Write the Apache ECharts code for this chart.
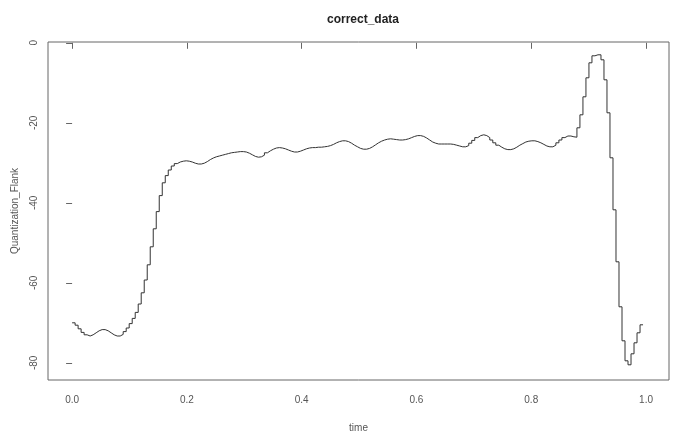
<!DOCTYPE html>
<html>
<head>
<meta charset="utf-8">
<script src="https://cdn.jsdelivr.net/npm/echarts@6/dist/echarts.min.js"></script>
<style>
  html, body { margin: 0; padding: 0; background: #fff; }
  #chart { width: 677px; height: 432px; }
</style>
</head>
<body>
<div id="chart"></div>
<script>
// samples are taken every 1/191 of the time span
const sampleStep = 1 / 191

// Quantization_Flank values, one per sample
const flankValues = [
  -70.0, -70.6, -71.5, -72.4, -73.0, -73.3, -73.0, -72.5, -72.0, -71.7,
  -71.7, -72.0, -72.5, -73.0, -73.3, -73.3, -72.9, -72.2, -71.3, -70.2,
  -68.9, -67.4, -65.3, -62.5, -59.3, -55.5, -51.0, -46.5, -42.2, -38.2,
  -35.0, -33.2, -31.8, -30.8, -30.2, -29.8, -29.6, -29.5, -29.6, -29.8,
  -30.1, -30.3, -30.3, -30.1, -29.7, -29.2, -28.8, -28.5, -28.3, -28.1,
  -27.9, -27.7, -27.5, -27.4, -27.3, -27.2, -27.2, -27.3, -27.6, -28.0,
  -28.4, -28.6, -28.5, -28.1, -27.5, -27.0, -26.6, -26.3, -26.2, -26.3,
  -26.5, -26.8, -27.1, -27.3, -27.3, -27.1, -26.8, -26.5, -26.3, -26.2,
  -26.2, -26.1, -26.1, -26.0, -25.9, -25.7, -25.4, -25.0, -24.7, -24.5,
  -24.5, -24.7, -25.1, -25.6, -26.0, -26.4, -26.6, -26.6, -26.4, -26.0,
  -25.5, -25.0, -24.6, -24.3, -24.1, -24.0, -24.1, -24.2, -24.3, -24.3,
  -24.2, -24.0, -23.7, -23.4, -23.2, -23.2, -23.4, -23.8, -24.3, -24.8,
  -25.1, -25.3, -25.3, -25.3, -25.3, -25.3, -25.4, -25.6, -25.8, -26.0,
  -26.0, -25.7, -25.1, -24.4, -23.7, -23.2, -23.0, -23.2, -23.7, -24.3,
  -25.0, -25.6, -26.1, -26.5, -26.7, -26.7, -26.5, -26.1, -25.6, -25.2,
  -24.8, -24.6, -24.5, -24.5, -24.7, -25.0, -25.4, -25.8, -26.0, -26.0,
  -25.6, -25.0, -24.3, -23.7, -23.3, -23.3, -23.5, -23.6, -21.25, -18.0,
  -13.5, -8.75, -5.0, -3.25, -3.0, -3.0, -4.25, -9.25, -17.5, -28.75,
  -41.75, -54.75, -66.0, -74.5, -79.5, -80.5, -77.75, -75.0, -72.5, -70.5,
  -70.5
]

const xTicks = [0, 0.2, 0.4, 0.6, 0.8, 1.0]
const xTickLabels = ['0.0', '0.2', '0.4', '0.6', '0.8', '1.0']
const yTicks = [0, -20, -40, -60, -80]

const seriesData = flankValues.map((v, i) => [i * sampleStep, v])

const font = "'Liberation Sans Narrow', 'Liberation Sans', Arial, sans-serif"
const textColor = '#555'
const boxColor = '#666'

const chart = echarts.init(document.getElementById('chart'))

chart.setOption({
  animation: false,
  backgroundColor: '#fff',
  title: {
    text: 'correct_data',
    left: 358,
    top: 9,
    textAlign: 'center',
    textStyle: { fontFamily: font, fontSize: 12, fontWeight: 'bold', color: '#222' }
  },
  grid: {
    left: 48,
    right: 8,
    top: 42,
    bottom: 52,
    outerBoundsMode: 'none',
    containLabel: false,
    show: true,
    borderColor: boxColor,
    borderWidth: 1,
    backgroundColor: 'transparent'
  },
  xAxis: {
    type: 'value',
    min: -0.042,
    max: 1.04,
    name: 'time',
    nameLocation: 'middle',
    nameGap: 43,
    nameTextStyle: { fontFamily: font, fontSize: 10, color: textColor },
    axisLine: { show: false },
    splitLine: { show: false },
    axisTick: {
      show: true,
      inside: false,
      length: 6,
      customValues: xTicks,
      lineStyle: { color: boxColor }
    },
    axisLabel: {
      customValues: xTicks,
      margin: 15,
      fontFamily: font,
      fontSize: 10,
      color: textColor,
      formatter: v => xTickLabels[xTicks.findIndex(t => Math.abs(t - v) < 1e-9)] ?? ''
    }
  },
  yAxis: {
    type: 'value',
    min: -84.3,
    max: 0.2,
    name: 'Quantization_Flank',
    nameLocation: 'middle',
    nameGap: 28,
    nameRotate: 90,
    nameTextStyle: { fontFamily: font, fontSize: 10, color: textColor },
    axisLine: { show: false },
    splitLine: { show: false },
    axisTick: {
      show: true,
      inside: false,
      length: 6,
      customValues: yTicks,
      lineStyle: { color: boxColor }
    },
    axisLabel: {
      customValues: yTicks,
      rotate: 90,
      margin: 9,
      fontFamily: font,
      fontSize: 10,
      color: textColor
    }
  },
  series: [
    {
      type: 'line',
      step: 'end',
      data: seriesData,
      showSymbol: false,
      lineStyle: { color: '#333', width: 1 },
      silent: true
    }
  ]
})
</script>
</body>
</html>
